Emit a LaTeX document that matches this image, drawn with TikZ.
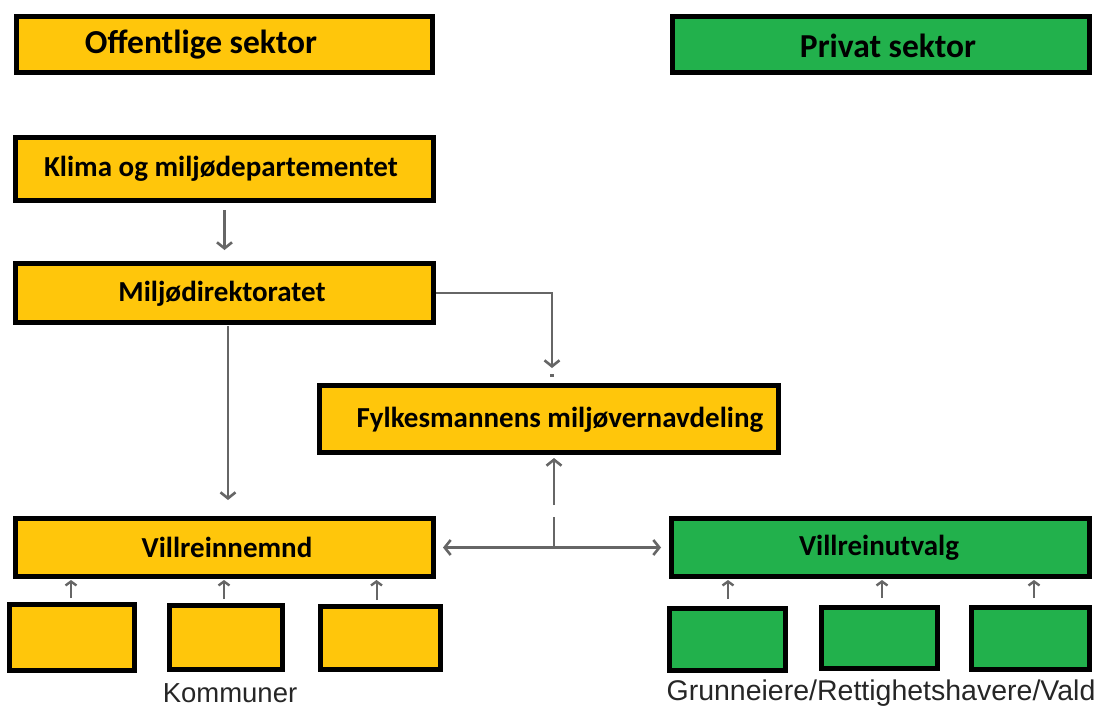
\documentclass[tikz,border=0pt]{standalone}
\usepackage{fontspec}
\setmainfont{Carlito}
\newfontfamily\arialf{Liberation Sans}
\usetikzlibrary{arrows.meta}
\definecolor{yel}{HTML}{FFC60B}
\definecolor{grn}{HTML}{22B14C}
\definecolor{arrc}{HTML}{666666}
\definecolor{labc}{HTML}{262626}
\tikzset{
  box/.style={draw=black, line width=5pt, inner sep=0pt},
  ybox/.style={box, fill=yel},
  gbox/.style={box, fill=grn},
  btxt/.style={font=\bfseries\fontsize{29}{33}\selectfont, text=black, inner sep=0pt},
  htxt/.style={font=\bfseries\fontsize{33.5}{37}\selectfont, text=black, inner sep=0pt},
  ltxt/.style={font=\arialf\fontsize{27.5}{32}\selectfont, text=labc, inner sep=0pt},
  conn/.style={draw=arrc, line width=2.2pt, -{Straight Barb[length=6pt,width=15pt,line width=2.6pt]}},
  line/.style={draw=arrc, line width=2.2pt},
  dconn/.style={draw=arrc, line width=2.2pt, {Straight Barb[length=6pt,width=15pt,line width=2.6pt]}-{Straight Barb[length=6pt,width=15pt,line width=2.6pt]}},
  sconn/.style={draw=arrc, line width=2pt, -{Straight Barb[length=4pt,width=11pt,line width=2.4pt]}},
}
\begin{document}
\begin{tikzpicture}[x=1pt,y=-1pt]
\useasboundingbox (0,0) rectangle (1104,707);

% header boxes
\node[ybox, minimum width=416pt, minimum height=56pt] (off) at (224.5,44.5) {};
\node[htxt] (offt) at (201,45) {Offentlige sektor};
\node[gbox, minimum width=417pt, minimum height=56pt] (priv) at (880.5,44.5) {};
\node[htxt] (privt) at (888,46) {Privat sektor};

% public chain
\node[ybox, minimum width=418pt, minimum height=63pt] (klima) at (224.5,169) {};
\node[btxt] (klimat) at (221,169) {Klima og miljødepartementet};
\node[ybox, minimum width=418pt, minimum height=59pt] (mdir) at (224.5,293) {};
\node[btxt] (mdirt) at (222,294) {Miljødirektoratet};
\node[ybox, minimum width=459pt, minimum height=67pt] (fyl) at (549,419) {};
\node[btxt] (fylt) at (560,420) {Fylkesmannens miljøvernavdeling};
\node[ybox, minimum width=418pt, minimum height=58pt] (vnemnd) at (224.5,547.5) {};
\node[btxt] (vnemndt) at (227,547.5) {Villreinnemnd};
\node[gbox, minimum width=418pt, minimum height=58pt] (vutvalg) at (880.5,547.5) {};
\node[btxt] (vutvalgt) at (879,547.5) {Villreinutvalg};

% small boxes
\node[ybox, minimum width=125pt, minimum height=66pt] (k1) at (72,637.5) {};
\node[ybox, minimum width=113pt, minimum height=64pt] (k2) at (226,637.5) {};
\node[ybox, minimum width=120pt, minimum height=63pt] (k3) at (380.5,638) {};
\node[gbox, minimum width=116pt, minimum height=62pt] (g1) at (727.5,639.5) {};
\node[gbox, minimum width=116pt, minimum height=61pt] (g2) at (879.5,638) {};
\node[gbox, minimum width=118pt, minimum height=62pt] (g3) at (1030.5,638.5) {};

\node[ltxt] (komm) at (230,693) {Kommuner};
\node[ltxt, font=\arialf\fontsize{28.5}{32}\selectfont] (grun) at (881,693) {Grunneiere/Rettighetshavere/Vald};

% connectors
\draw[conn, shorten <=7pt, shorten >=11pt] (klima.south) -- (mdir.north);
\draw[conn, shorten <=1pt, shorten >=16pt] ([xshift=3.5pt]mdir.south) -- ([xshift=3.5pt]vnemnd.north);
\draw[conn, shorten >=15pt] (mdir.east) -| ([xshift=3pt]fyl.north);
\coordinate (dash) at (552,375.5);
\draw[line] ([xshift=-2pt]dash) -- ([xshift=2pt]dash);
\draw[dconn, shorten <=7pt, shorten >=8pt] (vnemnd.east) -- (vutvalg.west);
\coordinate (junc) at (554,547.5);
\coordinate (gapa) at (554,517);
\coordinate (gapb) at (554,505);
\draw[line] (junc) -- (gapa);
\draw[conn, shorten >=3pt] (gapb) -- (gapb |- fyl.south);

\foreach \b/\dx in {k1/-1,k2/-2,k3/-4} {
  \draw[sconn, shorten <=4pt, shorten >=1pt] ([xshift=\dx pt]\b.north) -- ([xshift=\dx pt]\b.north |- vnemnd.south);
}
\foreach \b/\dx in {g1/0.5,g2/2.5,g3/3.5} {
  \draw[sconn, shorten <=7pt, shorten >=1pt] ([xshift=\dx pt]\b.north) -- ([xshift=\dx pt]\b.north |- vutvalg.south);
}
\end{tikzpicture}
\end{document}
